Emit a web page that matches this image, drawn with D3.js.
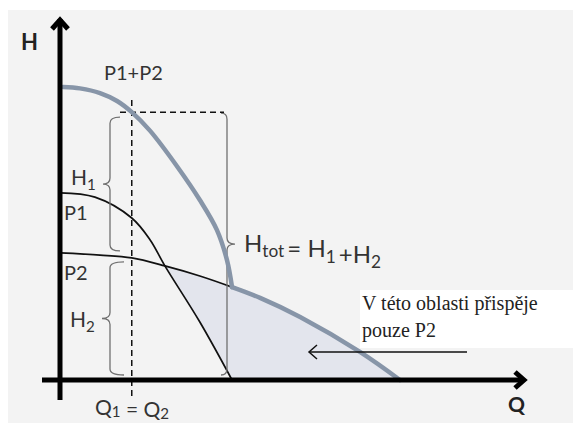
<!DOCTYPE html>
<html>
<head>
<meta charset="utf-8">
<script src="https://cdn.jsdelivr.net/npm/d3@7"></script>
<style>
  html, body { margin: 0; padding: 0; background: #ffffff; }
  svg { display: block; }
</style>
</head>
<body>
<script>
// Pump characteristics in series: head H against flow Q (relative units 0–100)
const qP1 = [0, 7.6, 15.6, 19.6, 22.8, 30.4, 37.4];
const hP1 = [52, 50.8, 45, 38.9, 31.7, 16.1, 0];

const qP2 = [0, 8.7, 15.6, 22.8, 30.4, 37.4, 43.5, 52.2, 65.2, 73.9];
const hP2 = [35.3, 34.7, 33.9, 31.7, 28.9, 25.8, 22.8, 17.5, 7.8, 0];

// Combined curve P1+P2 up to the flow where P1 stops delivering head
const qSum = [0.65, 4.35, 8.7, 12.4, 15.6, 19.6, 25.7, 30.4, 34.1, 36.3, 37.4];
const hSum = [81.4, 81.0, 79.7, 77.5, 74.4, 69.2, 58.9, 50, 41.7, 33.3, 25.8];

const qOperating = 15.6;   // Q1 = Q2
const qP1Zero = 37.4;      // P1 shut-off flow

const W = 573, H = 423;
const svg = d3.select("body").append("svg").attr("width", W).attr("height", H);

// Panel background
svg.append("rect").attr("x", 8).attr("y", 10).attr("width", W - 8).attr("height", H - 10)
  .attr("fill", "#f3f3f3");

const x = d3.scaleLinear().domain([0, 100]).range([60, 520]);
const y = d3.scaleLinear().domain([0, 100]).range([380, 20]);

const zip = (qs, hs) => qs.map((q, i) => [q, hs[i]]);
const p1 = zip(qP1, hP1);
const p2 = zip(qP2, hP2);
const sum = zip(qSum, hSum);
const p2Tail = p2.filter(d => d[0] >= qP1Zero);

const smooth = d3.curveCatmullRom.alpha(0.5);
const line = d3.line().x(d => x(d[0])).y(d => y(d[1])).curve(smooth);

// Region where only P2 contributes: under P2, above/right of P1
const clip = svg.append("clipPath").attr("id", "aboveP1");
clip.append("path").attr("d",
  line(p1) + `L${x(100)},${y(0)}L${x(100)},${y(100)}L${x(0)},${y(100)}Z`);
const area = d3.area().x(d => x(d[0])).y0(y(0)).y1(d => y(d[1])).curve(smooth);
svg.append("path").attr("d", area(p2)).attr("fill", "#e3e5ed").attr("clip-path", "url(#aboveP1)");

// Text box for the region note
svg.append("rect").attr("x", 360).attr("y", 290).attr("width", W - 360).attr("height", 58)
  .attr("fill", "#ffffff");

// Individual pump curves
svg.append("path").attr("d", line(p1)).attr("fill", "none").attr("stroke", "#111").attr("stroke-width", 1.7);
svg.append("path").attr("d", line(p2)).attr("fill", "none").attr("stroke", "#111").attr("stroke-width", 1.7);

// Braces
function brace(xv, y0, y1, dir, w, t) {
  const ym = (y0 + y1) / 2, r = 6;
  const xe = xv - dir * w;
  return `M${xe},${y0} Q${xv},${y0} ${xv},${y0 + r} L${xv},${ym - r} ` +
         `Q${xv},${ym} ${xv + dir * t},${ym} Q${xv},${ym} ${xv},${ym + r} ` +
         `L${xv},${y1 - r} Q${xv},${y1} ${xe},${y1}`;
}
const hQ1Sum = y(74.4), hQ1P2 = y(hP2[2]);
const braceStyle = s => s.attr("fill", "none").attr("stroke", "#707070").attr("stroke-width", 1.3);
svg.append("path").attr("d", brace(110, hQ1Sum + 5, hQ1P2 - 7, -1, 10, 7)).call(braceStyle);
svg.append("path").attr("d", brace(110, hQ1P2 + 4, y(0) - 5, -1, 14, 8)).call(braceStyle);
svg.append("path").attr("d", brace(227, hQ1Sum + 1, y(0) - 5, 1, 6, 8)).call(braceStyle);

// Dashed guides at the operating point
svg.append("line").attr("x1", x(qOperating)).attr("x2", x(qOperating)).attr("y1", 100).attr("y2", 397)
  .attr("stroke", "#111").attr("stroke-width", 1.5).attr("stroke-dasharray", "6,4");
svg.append("line").attr("x1", 120).attr("x2", 224).attr("y1", hQ1Sum).attr("y2", hQ1Sum)
  .attr("stroke", "#111").attr("stroke-width", 1.5).attr("stroke-dasharray", "6,4");

// Combined curve
const grey = "#8795a8";
svg.append("path").attr("d", line(sum)).attr("fill", "none").attr("stroke", grey)
  .attr("stroke-width", 4.5).attr("stroke-linecap", "round").attr("stroke-linejoin", "round");
svg.append("path").attr("d", line(p2Tail)).attr("fill", "none").attr("stroke", grey)
  .attr("stroke-width", 4.5).attr("stroke-linecap", "round").attr("stroke-linejoin", "round");

// Axes with arrowheads
const axis = svg.append("g").attr("stroke", "#000").attr("stroke-width", 5).attr("fill", "none");
axis.append("line").attr("x1", x(0)).attr("x2", x(0)).attr("y1", 400).attr("y2", 19);
axis.append("line").attr("x1", 42).attr("x2", 524).attr("y1", y(0)).attr("y2", y(0));
axis.append("path").attr("d", `M${x(0) - 8},29 L${x(0)},20 L${x(0) + 8},29`);
axis.append("path").attr("d", `M515,${y(0) - 8} L524,${y(0)} L515,${y(0) + 8}`);

// Arrow into the P2-only region
svg.append("line").attr("x1", 467).attr("x2", 309).attr("y1", 352).attr("y2", 352)
  .attr("stroke", "#111").attr("stroke-width", 1.5);
svg.append("path").attr("d", "M317,345 L309,352 L317,359").attr("fill", "none")
  .attr("stroke", "#111").attr("stroke-width", 1.5);

// Labels
const sans = "Lato, 'Open Sans', sans-serif";
const txt = (xp, yp, size, weight) => svg.append("text").attr("x", xp).attr("y", yp)
  .attr("font-family", sans).attr("font-size", size).attr("font-weight", weight || 400)
  .attr("fill", "#333");

txt(21, 50, 22, 700).attr("fill", "#222").text("H");
txt(508, 412, 21, 700).attr("fill", "#222").text("Q");
txt(104, 80, 20).text("P1+P2");
txt(64, 220, 20).text("P1");
txt(64, 280, 20).text("P2");

function subLabel(xp, yp, size, parts, drop) {
  const d = drop === undefined ? size * 0.22 : drop;
  const t = txt(xp, yp, size);
  parts.forEach(([s, sub]) => {
    if (sub) {
      t.append("tspan").attr("font-size", size * 0.72).attr("dy", d).text(s);
      t.append("tspan").attr("dy", -d).text("");
    } else {
      t.append("tspan").text(s);
    }
  });
  return t;
}
subLabel(71, 185, 21, [["H"], ["1", true]]);
subLabel(70, 327, 21, [["H"], ["2", true]]);
subLabel(244, 252, 24, [["H"], ["tot", true], ["\u2009= H"], ["1", true], ["\u2009+H"], ["2", true]]);
subLabel(95, 415, 21, [["Q"], ["1", true], [" = Q"], ["2", true]], 2);

// Note in the text box
const serif = "'Liberation Serif', 'DejaVu Serif', serif";
svg.append("text").attr("x", 362).attr("y", 310).attr("font-family", serif).attr("font-size", 20)
  .attr("fill", "#222").text("V této oblasti přispěje");
svg.append("text").attr("x", 362).attr("y", 337).attr("font-family", serif).attr("font-size", 20)
  .attr("fill", "#222").text("pouze P2");
</script>
</body>
</html>
